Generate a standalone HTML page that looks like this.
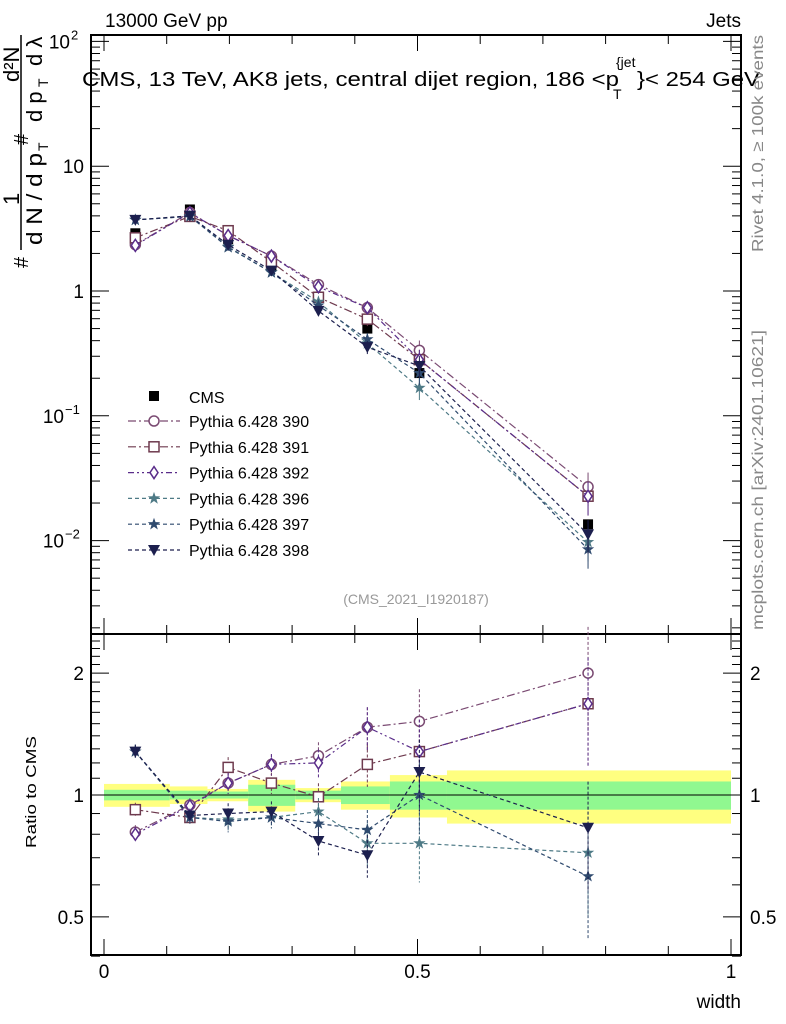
<!DOCTYPE html>
<html><head><meta charset="utf-8"><style>
body{margin:0;background:#fff;}
svg{display:block;font-family:"Liberation Sans",sans-serif;}
</style></head><body>
<svg id="c" width="786" height="1024" viewBox="0 0 786 1024"></svg>
<script>
const xs=[0.05,0.137,0.198,0.267,0.342,0.42,0.503,0.772];
const cms=[2.9,4.5,2.6,1.6,0.9,0.5,0.22,0.0135];
const r390=[0.81,0.945,1.07,1.19,1.25,1.47,1.52,2.0];
const r391=[0.92,0.88,1.17,1.07,0.99,1.19,1.28,1.68];
const r392=[0.80,0.94,1.07,1.19,1.20,1.47,1.28,1.68];
const r396=[1.28,0.88,0.87,0.88,0.91,0.76,0.76,0.72];
const r397=[1.28,0.88,0.86,0.88,0.85,0.82,1.0,0.63];
const r398=[1.28,0.89,0.90,0.91,0.77,0.71,1.14,0.83];
const rerr=[0.04,0.04,0.06,0.06,0.08,0.12,0.2,0.3];
const binEdges=[0,0.105,0.165,0.23,0.305,0.378,0.456,0.547,1.0];
const yellowErr=[0.065,0.05,0.035,0.09,0.04,0.08,0.12,0.15];
const greenErr=[0.03,0.025,0.02,0.06,0.025,0.05,0.08,0.08];
const xTickLabels=["0","0.5","1"];
const NS="http://www.w3.org/2000/svg";
const svg=document.getElementById('c');
const L=91,R=741,T=35,MB=634,RB=955;
const X=v=>104+v*627;
const Y=v=>291-Math.log10(v)*124.8;
const YR=v=>795-Math.log10(v)*405;
function el(t,a,p){const e=document.createElementNS(NS,t);for(const k in a)e.setAttribute(k,a[k]);(p||svg).appendChild(e);return e;}
function txt(x,y,s,a,p){const e=el('text',Object.assign({x:x,y:y},a||{}),p);e.textContent=s;return e;}
function rtxt(x,y,s,size,p,extra){return txt(x,y,s,Object.assign({'font-size':size,transform:`rotate(-90 ${x} ${y})`},extra||{}),p);}
binEdges.slice(0,-1).forEach((b,i)=>{
 const x1=X(b),x2=X(binEdges[i+1]);
 const y=el('rect',{x:x1,y:YR(1+yellowErr[i]),width:x2-x1,height:YR(1-yellowErr[i])-YR(1+yellowErr[i]),fill:'#ffff80'});
 
 const g=el('rect',{x:x1,y:YR(1+greenErr[i]),width:x2-x1,height:YR(1-greenErr[i])-YR(1+greenErr[i]),fill:'#90f890'});
 
});
el('line',{x1:L,x2:R,y1:YR(1),y2:YR(1),stroke:'#000','stroke-width':1});
const f1=el('rect',{x:L,y:T,width:R-L,height:MB-T,fill:'none',stroke:'#000','stroke-width':2});

const f2=el('rect',{x:L,y:MB,width:R-L,height:RB-MB,fill:'none',stroke:'#000','stroke-width':2});

for(let i=0;i<=10;i++){const x=X(i/10),big=i%5==0?1:0;
 [[T,1],[MB,1],[MB,-1],[RB,-1]].forEach(([y0,d])=>el('line',{x1:x,x2:x,y1:y0,y2:y0+d*(big?16:9),stroke:'#000'}));}
xTickLabels.forEach((s,i)=>{const t=txt(X(i*0.5),978,s,{'font-size':19,'text-anchor':'middle'});});
for(let e=-3;e<=2;e++)for(let m=1;m<10;m++){const v=m*Math.pow(10,e);const y=Y(v);if(y<T||y>MB)continue;
 const w=m==1?18:9;el('line',{x1:L,x2:L+w,y1:y,y2:y,stroke:'#000'});el('line',{x1:R,x2:R-w,y1:y,y2:y,stroke:'#000'});}
[["10",2],["10",1],["1",0],["10",-1],["10",-2]].forEach(([s,e])=>{const y=Y(Math.pow(10,e))+7;
 if(e==1||e==0){txt(84,y,e==1?"10":"1",{'font-size':19,'text-anchor':'end'});}
 else{txt(e==2?70:64,y,"10",{'font-size':19,'text-anchor':'end'});txt(e==2?71:65,y-9,e==2?"2":(e==-1?"−1":"−2"),{'font-size':13});}});
[0.4,0.5,0.6,0.7,0.8,0.9,1,2].forEach(v=>{const y=YR(v),w=(v==1||v==2||v==0.5)?18:9;el('line',{x1:L,x2:L+w,y1:y,y2:y,stroke:'#000'});el('line',{x1:R,x2:R-w,y1:y,y2:y,stroke:'#000'});});
for(let v=1.1;v<2.5;v+=0.1){if(Math.abs(v-2)<0.01)continue;const y=YR(v);el('line',{x1:L,x2:L+9,y1:y,y2:y,stroke:'#000'});el('line',{x1:R,x2:R-9,y1:y,y2:y,stroke:'#000'});}
[["2",2],["1",1],["0.5",0.5]].forEach(([s,v])=>{txt(84,YR(v)+7,s,{'font-size':19,'text-anchor':'end'});txt(750,YR(v)+7,s,{'font-size':19});});
const S=[
 {n:'Pythia 6.428 390',r:r390,c:'#7a4a72',d:'8 3 2 3',m:'circle'},
 {n:'Pythia 6.428 391',r:r391,c:'#6e3a4e',d:'8 3 2 3',m:'square'},
 {n:'Pythia 6.428 392',r:r392,c:'#5a2d8a',d:'6 3 2 3 2 3',m:'diamond'},
 {n:'Pythia 6.428 396',r:r396,c:'#4e7a86',d:'4 3',m:'star'},
 {n:'Pythia 6.428 397',r:r397,c:'#2f4a6e',d:'4 3',m:'star2'},
 {n:'Pythia 6.428 398',r:r398,c:'#1c1f4e',d:'4 3',m:'tri'}];
function marker(m,x,y,c,g){
 if(m=='circle')return el('circle',{cx:x,cy:y,r:5,fill:'#fff',stroke:c,'stroke-width':1.5},g);
 if(m=='square')return el('rect',{x:x-5,y:y-5,width:10,height:10,fill:'#fff',stroke:c,'stroke-width':1.5},g);
 if(m=='diamond')return el('polygon',{points:`${x},${y-6} ${x+4},${y} ${x},${y+6} ${x-4},${y}`,fill:'#fff',stroke:c,'stroke-width':1.5},g);
 if(m=='tri')return el('polygon',{points:`${x-6},${y-5} ${x+6},${y-5} ${x},${y+6}`,fill:c},g);
 if(m=='cms')return el('rect',{x:x-5,y:y-5,width:10,height:10,fill:'#000'},g);
 let p=[];for(let i=0;i<10;i++){const a=-Math.PI/2+i*Math.PI/5,rr=i%2?2.6:6.5;p.push((x+rr*Math.cos(a)).toFixed(1)+','+(y+rr*Math.sin(a)).toFixed(1));}
 return el('polygon',{points:p.join(' '),fill:c},g);
}
const gc=el('g',{});
xs.forEach((x,i)=>marker('cms',X(x),Y(cms[i]),'#000',gc));
S.forEach((s,k)=>{
 const g=el('g',{});
 const pm=xs.map((x,i)=>X(x)+','+Y(cms[i]*s.r[i]).toFixed(1)).join(' ');
 el('polyline',{points:pm,fill:'none',stroke:s.c,'stroke-width':1.2,'stroke-dasharray':s.d},g);
 const pr=xs.map((x,i)=>X(x)+','+YR(s.r[i]).toFixed(1)).join(' ');
 el('polyline',{points:pr,fill:'none',stroke:s.c,'stroke-width':1.2,'stroke-dasharray':s.d},g);
 xs.forEach((x,i)=>{const v=s.r[i],e=rerr[i];
  el('line',{x1:X(x),x2:X(x),y1:YR(v*(1+e)),y2:YR(Math.max(v*(1-e),0.41)),stroke:s.c,'stroke-dasharray':'3 2'},g);
  el('line',{x1:X(x),x2:X(x),y1:Y(cms[i]*v*(1+e)),y2:Y(cms[i]*v*(1-e)),stroke:s.c},g);
  marker(s.m,X(x),Y(cms[i]*v),s.c,g);marker(s.m,X(x),YR(v),s.c,g);});
});
const lg=el('g',{});
marker('cms',154,396,'#000',lg);txt(189,403,'CMS',{'font-size':16},lg);
S.forEach((s,k)=>{const y=421+k*25.8;
 el('line',{x1:128,x2:180,y1:y,y2:y,stroke:s.c,'stroke-width':1.2,'stroke-dasharray':s.d},lg);
 marker(s.m,154,y,s.c,lg);const t=txt(189,y+6,s.n,{'font-size':16},lg);
 });
txt(416,604,'(CMS_2021_I1920187)',{'font-size':14,fill:'#999','text-anchor':'middle'});
txt(105,27,'13000 GeV pp',{'font-size':19});
txt(741,27,'Jets',{'font-size':19,'text-anchor':'end'});
const tg=el('g',{});
txt(82,86,'CMS, 13 TeV, AK8 jets, central dijet region, 186 <p',{'font-size':20,textLength:537,lengthAdjust:'spacingAndGlyphs'},tg);
txt(616,67,'{jet',{'font-size':14},tg);
txt(613,99,'T',{'font-size':14},tg);
txt(637,86,'}< 254 GeV',{'font-size':20,textLength:123,lengthAdjust:'spacingAndGlyphs'},tg);
rtxt(763,252,'Rivet 4.1.0, ≥ 100k events',16,svg,{fill:'#888',textLength:217,lengthAdjust:'spacingAndGlyphs'});
rtxt(763,630,'mcplots.cern.ch [arXiv:2401.10621]',16,svg,{fill:'#888',textLength:300,lengthAdjust:'spacingAndGlyphs'});
txt(741,1008,'width',{'font-size':19,'text-anchor':'end'});
rtxt(36,848,'Ratio to CMS',15,svg,{textLength:112,lengthAdjust:'spacingAndGlyphs'});
const yl=el('g',{});
rtxt(28,268,'#',20,yl);
rtxt(42,245,'d N / d p',22,yl,{textLength:92,lengthAdjust:'spacingAndGlyphs'});
rtxt(48,151,'T',14,yl);
rtxt(19,205,'1',22,yl);
el('line',{x1:21,x2:21,y1:35,y2:250,stroke:'#000','stroke-width':1.5},yl);
rtxt(28,145,'#',20,yl);
rtxt(42,122,'d p',22,yl);
rtxt(48,87,'T',14,yl);
rtxt(42,66,'d λ',22,yl);
rtxt(19,82,'d²N',22,yl);
</script>
</body></html>
